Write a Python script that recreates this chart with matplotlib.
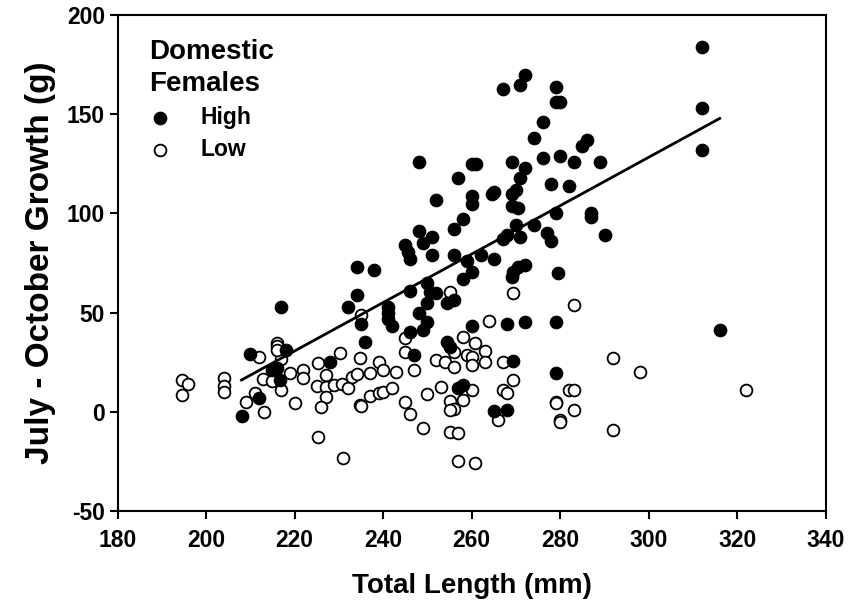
import numpy as np
import matplotlib.pyplot as plt

# High group (filled) - total length (mm) and growth (g)
high_x = [312, 312, 312, 272, 271, 267, 279, 279, 280, 276, 274, 286, 285, 276, 280,
          283, 289, 269, 272, 260, 261, 257, 271, 278, 282, 264.5, 265, 260, 260, 269,
          270, 269, 270.5, 258, 279, 287, 287, 270, 274, 277, 278, 290, 267, 268, 271,
          262, 265, 248, 252, 256, 248, 251, 249, 245, 245.6, 246, 251, 256, 234, 238,
          234, 246, 250, 250.5, 252, 250, 254.4, 256, 241, 259, 270.4, 272, 269.3, 269,
          260, 258, 279.4, 260, 268, 272, 279, 235, 241, 241, 242, 236, 248, 250, 249,
          246, 247, 254.4, 255, 257, 217, 232, 210, 218, 216, 216.7, 228, 212, 208, 258,
          269.3, 265, 268, 279, 316, 215]
high_y = [184, 153, 132, 170, 165, 163, 164, 156, 156, 146, 138, 137, 134, 128, 129,
          126, 126, 126, 123, 125, 125, 118, 118, 115, 114, 110, 111, 109, 105, 110,
          112, 104, 103, 97, 100, 100, 98, 94, 94, 90, 86, 89, 87, 89, 88,
          79, 77, 126, 107, 92, 91, 88, 85, 84, 80.6, 77, 79, 79, 73, 71.5,
          59, 61, 65, 60.5, 60, 55, 55, 56.4, 53, 76, 73, 74, 70.5, 68,
          70.5, 67, 70, 43, 44, 45, 45, 44, 50, 47, 43, 35, 50, 45, 41,
          40, 28.5, 35, 32.6, 12, 53, 53, 29, 31, 22, 16, 25, 7, -2, 13.5,
          25.4, 0.4, 0.9, 19.5, 41, 21]

# Low group (open)
low_x = [194.6, 196, 194.6, 204, 204, 204, 216, 216, 212, 217, 212.8, 215, 219, 217, 211,
         209, 213, 222, 222, 220, 225.3, 230.2, 227, 225, 227, 229, 230.7, 227, 226, 232,
         233, 234, 234.7, 225.3, 231, 234.7, 235, 255, 239, 240, 237, 243, 245, 245, 247,
         252, 254, 256, 256, 258, 260.7, 259, 260, 260, 237, 239, 240, 242, 235, 245,
         246, 250, 253, 255, 256, 255, 258, 249, 255, 257, 257, 260.7, 260, 263, 263,
         267, 269.3, 267, 268, 266, 279, 280, 269.3, 264, 283, 292, 298, 322, 282, 283,
         279, 283, 280, 292, 216]
low_y = [16, 14, 8.5, 17, 13, 10, 34.6, 33, 27.6, 26.6, 16.5, 15.6, 19.4, 11, 9.4,
         5, 0, 21, 17, 4.4, 24.6, 29.6, 18.5, 13, 12.5, 13.5, 14, 7.4, 2.4, 12,
         17.5, 19, 27, -12.8, -23.4, 3.4, 49, 60.4, 25, 21, 19.5, 20, 37, 30, 21,
         26, 25, 22.5, 30, 37.7, 34.6, 28.6, 27.6, 23.6, 8, 9.4, 10, 12, 3, 5,
         -1, 9, 12.5, 5.4, 1.4, 1, 6, -8, -10, -11, -25, -26, 11, 30.5, 25,
         25, 16, 11, 9.4, -4, 5, -4, 60, 46, 54, 27, 20, 11, 11, 11,
         4.4, 1, -5, -9, 31]

# regression line for the High group
slope = 1.222
intercept = -238.2

xticks = [180, 200, 220, 240, 260, 280, 300, 320, 340]
yticks = [-50, 0, 50, 100, 150, 200]

plt.rcParams['font.family'] = 'Liberation Sans'
plt.rcParams['axes.unicode_minus'] = False

fig = plt.figure(figsize=(8.48, 6.11), dpi=100)
ax = fig.add_axes([0.1386, 0.164, 0.8354, 0.811])

ax.scatter(high_x, high_y, s=82, c='black', edgecolors='black', linewidths=0.8, zorder=3, label='High')
ax.scatter(low_x, low_y, s=72, c='white', edgecolors='black', linewidths=1.3, zorder=2, label='Low')

fx = np.array([min(high_x), max(high_x)])
ax.plot(fx, intercept + slope * fx, color='black', linewidth=2, zorder=4)

ax.set_xlim(180, 340)
ax.set_ylim(-50, 200)
ax.set_xticks(xticks)
ax.set_yticks(yticks)
for lab in ax.get_xticklabels() + ax.get_yticklabels():
    lab.set_fontweight('bold')
    lab.set_fontsize(16.5)
ax.tick_params(direction='out', length=6, width=1.5)
ax.tick_params(axis='y', pad=3)
ax.tick_params(axis='x', pad=7)
for sp in ax.spines.values():
    sp.set_linewidth(1.5)

ax.set_xlabel('Total Length (mm)', fontsize=20, fontweight='bold', labelpad=15)
ax.set_ylabel('July - October Growth (g)', fontsize=24, fontweight='bold', labelpad=8)

ax.text(0.044, 0.953, 'Domestic\nFemales', transform=ax.transAxes, fontsize=20,
        fontweight='bold', va='top', ha='left', linespacing=1.33)
leg = ax.legend(loc='upper left', bbox_to_anchor=(0.0315, 0.836), frameon=False,
                prop={'weight': 'bold', 'size': 16.5}, handlelength=1.0,
                handletextpad=1.25, labelspacing=0.4, borderaxespad=0)

fig.savefig('out.png', dpi=100)
